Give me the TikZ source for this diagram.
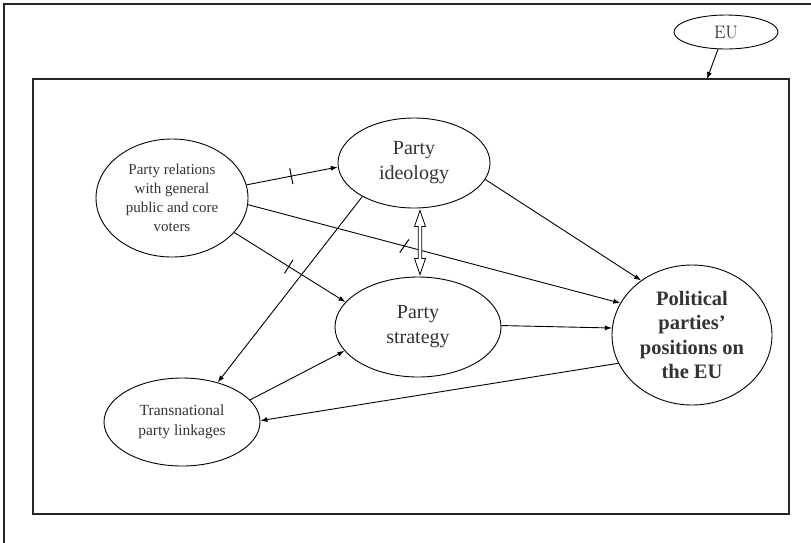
\documentclass[tikz,border=0pt]{standalone}
\usepackage{fontspec}
\newfontfamily\garfont{Liberation Serif}
\usetikzlibrary{shapes.geometric,arrows.meta,calc}
\tikzset{
  bubble/.style={ellipse, draw, line width=0.9pt, inner sep=0pt, align=center, text=black!80},
  conn/.style={line width=0.9pt, -{Latex[length=7pt,width=5pt]}},
  tickmark/.style={draw, sloped, rectangle, minimum width=0pt, minimum height=16pt, inner sep=0pt, line width=1pt},
  frameline/.style={line width=2.2pt, draw=black!85},
}
\begin{document}
\begin{tikzpicture}[x=1pt,y=-1pt]
\useasboundingbox (0,0) rectangle (811,542);
% outer frame (partly outside the picture)
\draw[frameline, line width=2.6pt] (4,545) -- (4,4) -- (815,4);
% inner frame
\node[frameline, draw, rectangle, minimum width=756pt, minimum height=435pt, inner sep=0pt] (inner) at (411,296.5) {};
\coordinate (euin) at (707,79);
% EU
\node[bubble, text=black!90, minimum width=104pt, minimum height=34pt, font=\fontsize{18}{20}\selectfont] (EU) at (726,32) {EU};
\draw[conn] (EU.245) -- (euin);
% main nodes
\node[bubble, minimum width=152pt, minimum height=118pt, font=\garfont\fontsize{15}{19}\selectfont] (R) at (172,198)
  {Party relations\\with general\\public and core\\voters};
\node[bubble, minimum width=152pt, minimum height=90pt, font=\garfont\fontsize{20}{25}\selectfont] (I) at (414,163)
  {Party\\ideology};
\node[bubble, minimum width=166pt, minimum height=100pt, font=\garfont\fontsize{20}{25}\selectfont] (S) at (418,327)
  {Party\\strategy};
\node[bubble, minimum width=160pt, minimum height=140pt, font=\garfont\bfseries\fontsize{20.5}{24.5}\selectfont] (P) at (692,335)
  {Political\\parties’\\positions on\\the EU};
\node[bubble, minimum width=156pt, minimum height=88pt, font=\garfont\fontsize{15.5}{20}\selectfont] (T) at (182,422)
  {Transnational\\party linkages};
% connectors
\draw[conn] (R.10) -- node[tickmark, pos=0.49]{} (I.183);
\draw[conn] (R.-5) -- node[tickmark, pos=0.42, rotate=-20]{} (P.156);
\draw[conn] (R.-29) -- node[tickmark, pos=0.49]{} (S.161);
\draw[conn] (I.213) -- (T.48);
\draw[conn] (I.-13) -- (P.133);
\draw[conn] (S.1) -- (P.175);
\draw[conn] (T.18) -- (S.198);
\draw[conn] (P.201) -- (T.1);
% double open arrow between ideology and strategy
\coordinate (dm) at ($(I.south)!0.5!(S.north)+(4,0)$);
\draw[line width=0.8pt, fill=white] ($(dm)+(0,-32)$) -- ($(dm)+(5.5,-16)$) -- ($(dm)+(1.8,-16)$)
  -- ($(dm)+(1.8,16)$) -- ($(dm)+(5.5,16)$) -- ($(dm)+(0,32)$) -- ($(dm)+(-5.5,16)$)
  -- ($(dm)+(-1.8,16)$) -- ($(dm)+(-1.8,-16)$) -- ($(dm)+(-5.5,-16)$) -- cycle;
\end{tikzpicture}
\end{document}
